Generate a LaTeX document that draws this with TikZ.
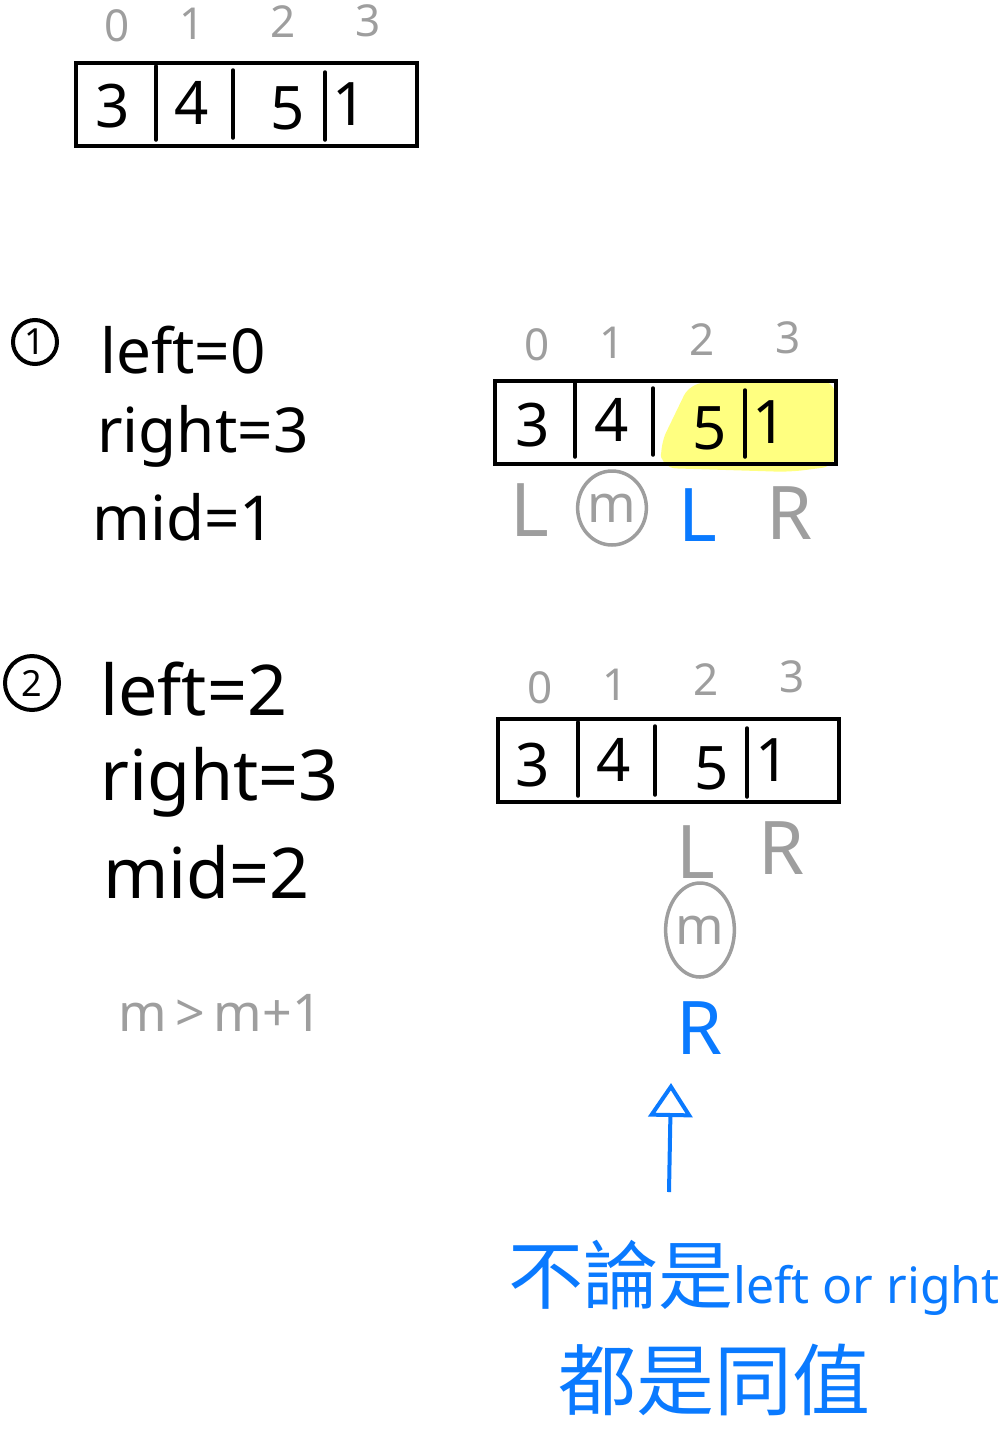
\documentclass[tikz,border=0pt]{standalone}
\usepackage{fontspec}
\setmainfont{Noto Sans}
\newfontfamily\cjk{Noto Sans CJK TC}
\usetikzlibrary{arrows.meta,shapes.geometric}
\definecolor{hgray}{RGB}{158,158,158}
\definecolor{hblue}{RGB}{10,122,255}
\definecolor{hyellow}{RGB}{255,255,128}
\begin{document}
\begin{tikzpicture}[x=1pt,y=-1pt,
  box/.style={draw=black,line width=3.5pt,minimum width=341pt,minimum height=83pt,anchor=north west,inner sep=0pt},
  divider/.style={line width=3.5pt,line cap=round},
  val/.style={font=\fontsize{60}{60}\selectfont,inner sep=0pt},
  idx/.style={font=\fontsize{44}{44}\selectfont,text=hgray,inner sep=0pt},
  eqone/.style={font=\fontsize{62}{62}\selectfont,anchor=base west,inner sep=0pt},
  eqtwo/.style={font=\fontsize{70}{70}\selectfont,anchor=base west,inner sep=0pt},
  ptr/.style={font=\fontsize{74}{74}\selectfont,inner sep=0pt},
  stepnum/.style={circle,draw=black,line width=4pt,inner sep=0pt,font=\fontsize{36}{36}\selectfont\bfseries},
  mid/.style={ellipse,draw=hgray,line width=3.5pt,text=hgray,inner sep=0pt,font=\fontsize{52}{52}\selectfont},
  note/.style={text=hblue,inner sep=0pt,anchor=west}
]
\useasboundingbox (0,0) rectangle (1000,1433);

% ---------- array 1 ----------
\node[box] (boxA) at (74,61) {};
\draw[divider] (156,66) -- (156,140);
\draw[divider] (233,70) -- (233,138);
\draw[divider] (325,72) -- (325,140);
\node[val] (a0) at (113,106) {3};
\node[val] (a1) at (192,103) {4};
\node[val] (a2) at (288,108) {5};
\node[val] (a3) at (350,104) {1};
\node[idx] (ia0) at (117,26) {0};
\node[idx] (ia1) at (192,24) {1};
\node[idx] (ia2) at (283,22) {2};
\node[idx] (ia3) at (368,21) {3};

% ---------- step 1 ----------
\node[stepnum,minimum size=44pt] (s1) at (35,342) {1};
\node[eqone] (l1) at (100,373) {left=0};
\node[eqone] (r1) at (97,452) {right=3};
\node[eqone] (m1) at (92,540) {mid=1};

% ---------- array 2 ----------
\fill[hyellow,rounded corners=14pt] (690,383) -- (834,380) -- (839,440) -- (836,466) -- (790,472) -- (662,468) -- (660,445) -- cycle;
\node[box] (boxB) at (493,379) {};
\draw[divider] (575,383) -- (575,457);
\draw[divider] (653,388) -- (653,455);
\draw[divider] (745,390) -- (745,457);
\node[val] (b0) at (533,425) {3};
\node[val] (b1) at (612,420) {4};
\node[val] (b2) at (710,428) {5};
\node[val] (b3) at (770,422) {1};
\node[idx] (ib0) at (537,345) {0};
\node[idx] (ib1) at (612,343) {1};
\node[idx] (ib2) at (702,340) {2};
\node[idx] (ib3) at (788,338) {3};
\node[ptr,text=hgray] (bL) at (530,510) {L};
\node[mid,minimum width=58pt,minimum height=74pt] (bm) at (612,508) {m};
\node[ptr,text=hblue] (bL2) at (698,515) {L};
\node[ptr,text=hgray] (bR) at (790,513) {R};

% ---------- step 2 ----------
\node[stepnum,minimum size=54pt] (s2) at (32,683) {2};
\node[eqtwo] (l2) at (100,715) {left=2};
\node[eqtwo] (r2) at (100,800) {right=3};
\node[eqtwo] (m2) at (103,898) {mid=2};
\node[font=\fontsize{52}{52}\selectfont,text=hgray,inner sep=0pt,anchor=base west] (cmp) at (118,1031) {m\,>\,m+1};

% ---------- array 3 ----------
\node[box] (boxC) at (496,717) {};
\draw[divider] (578,722) -- (578,796);
\draw[divider] (655,726) -- (655,795);
\draw[divider] (747,728) -- (747,797);
\node[val] (c0) at (533,765) {3};
\node[val] (c1) at (614,760) {4};
\node[val] (c2) at (712,768) {5};
\node[val] (c3) at (773,760) {1};
\node[idx] (ic0) at (540,688) {0};
\node[idx] (ic1) at (615,685) {1};
\node[idx] (ic2) at (706,680) {2};
\node[idx] (ic3) at (792,677) {3};
\node[ptr,text=hgray] (cL) at (696,852) {L};
\node[ptr,text=hgray] (cR) at (782,848) {R};
\node[mid,minimum width=64pt,minimum height=94pt] (cm) at (700,930) {m};
\node[ptr,text=hblue] (cR2) at (700,1028) {R};

% ---------- note ----------
\coordinate (tail) at (669,1192);
\coordinate (tip) at (671,1083);
\draw[hblue,line width=4pt,-{Triangle[open,length=34pt,width=44pt,line width=4pt]}] (tail) -- (tip);
\node[note] (n1) at (508,1278) {\cjk\fontsize{75}{75}\selectfont 不論是\fontspec{Noto Sans}\fontsize{50}{50}\selectfont left or right};
\node[note] (n2) at (558,1380) {\cjk\fontsize{78}{78}\selectfont 都是同值};
\end{tikzpicture}
\end{document}
